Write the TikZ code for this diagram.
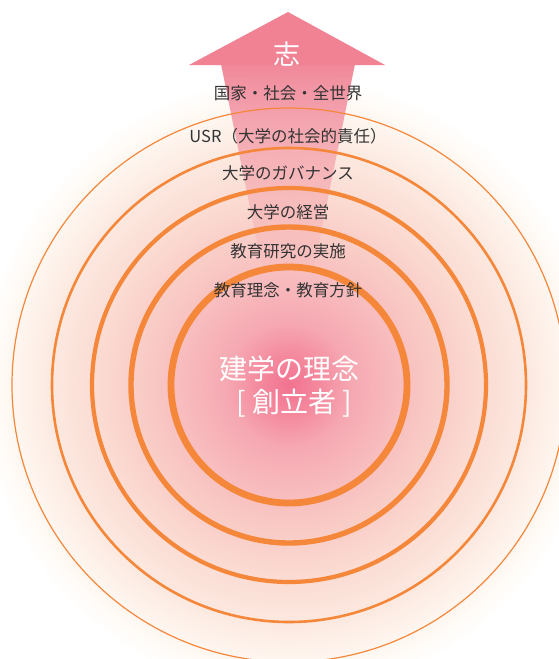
\documentclass[tikz,border=0pt]{standalone}
\usepackage{fontspec}
\newfontfamily\jp{Noto Sans CJK JP}
\usetikzlibrary{fadings}
\definecolor{ring}{HTML}{F5873B}
\definecolor{arrowpink}{HTML}{F08294}
\definecolor{txt}{HTML}{333333}
\definecolor{g0}{HTML}{F27290}
\definecolor{g1}{HTML}{F48A9E}
\definecolor{g2}{HTML}{F6A8B2}
\definecolor{g3}{HTML}{F8C0C0}
\definecolor{g4}{HTML}{F9CCC6}
\definecolor{g5}{HTML}{FBDDD4}
\definecolor{g6}{HTML}{FCE8DF}
\definecolor{g7}{HTML}{FEF5EE}
\definecolor{g8}{HTML}{FFFBF7}
% circle radius 310pt corresponds to 25bp
\pgfdeclareradialshading{glow}{\pgfpoint{0bp}{0bp}}{%
  color(0bp)=(g0); color(2.5bp)=(g1); color(5bp)=(g2); color(9.5bp)=(g3);
  color(12bp)=(g4); color(16bp)=(g5); color(19bp)=(g6); color(22bp)=(g7);
  color(23.5bp)=(g8); color(25bp)=(white); color(50bp)=(white)}
\tikzfading[name=shaftfade, top color=transparent!5, bottom color=transparent!100]
\tikzset{
  lbl/.style={text=txt, inner sep=0pt, font=\jp\fontsize{16.5}{16.5}\selectfont},
  core/.style={text=white, inner sep=0pt, font=\jp\fontsize{28}{28}\selectfont},
  ringline/.style={draw=ring}
}
\begin{document}
\begin{tikzpicture}[x=1pt,y=-1pt]
\useasboundingbox (0,0) rectangle (558,659);
\fill[white] (0,0) rectangle (558,659);
\coordinate (c) at (289,385);
% background glow
\shade[shading=glow] (c) circle[radius=310pt];
% arrow
\fill[arrowpink, path fading=shaftfade] (221,64) -- (355,64) -- (313,272) -- (263,272) -- cycle;
\fill[arrowpink] (288,12) -- (385,65) -- (189,65) -- cycle;
% rings
\draw[ringline, line width=1.2pt] (c) circle[radius=277pt];
\draw[ringline, line width=2.6pt] (c) circle[radius=237pt];
\draw[ringline, line width=4.2pt] (c) circle[radius=197pt];
\draw[ringline, line width=5.4pt] (c) circle[radius=158pt];
\draw[ringline, line width=6.8pt] (c) circle[radius=118pt];
% texts
\node[text=white, inner sep=0pt, font=\jp\fontsize{27}{27}\selectfont] (kokoro) at (287,54) {志};
\node[lbl] (t1) at (288,93.5) {国家・社会・全世界};
\node[lbl] (t2) at (288,136.5) {USR（大学の社会的責任）};
\node[lbl] (t3) at (288,173.5) {大学のガバナンス};
\node[lbl] (t4) at (288,212) {大学の経営};
\node[lbl] (t5) at (288,251.5) {教育研究の実施};
\node[lbl] (t6) at (288,290) {教育理念・教育方針};
\node[core] (core1) at (289,369) {建学の理念};
\node[core] (core2) at (294,403) {[ 創立者 ]};
\end{tikzpicture}
\end{document}
